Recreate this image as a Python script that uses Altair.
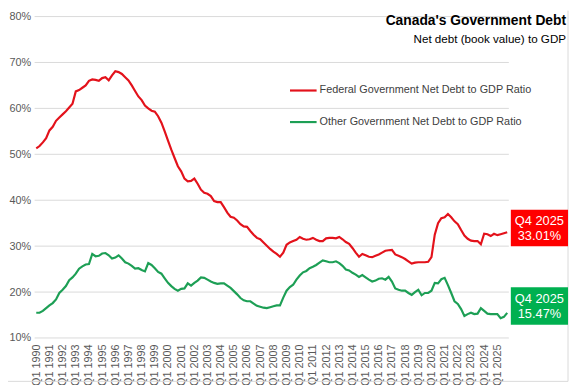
import altair as alt
import pandas as pd

# Quarterly data Q1 1990 .. Q4 2025 (index 0..143)
federal = [
    51.3, 51.8, 52.6, 53.5,   # 1990
    55.2, 56.0, 57.3, 58.0,   # 1991
    58.7, 59.4, 60.2, 61.0,   # 1992
    63.7, 64.0, 64.5, 65.0,   # 1993
    66.0, 66.3, 66.2, 66.0,   # 1994
    66.6, 66.8, 66.1, 67.2,   # 1995
    68.1, 67.9, 67.5, 66.8,   # 1996
    66.1, 65.0, 63.8, 62.6,   # 1997
    61.8, 60.6, 60.0, 59.5,   # 1998
    59.3, 58.3, 56.9, 55.0,   # 1999
    53.0, 51.0, 49.2, 47.4,   # 2000
    46.3, 44.7, 44.1, 44.2,   # 2001
    44.7, 43.6, 42.3, 41.6,   # 2002
    41.4, 40.9, 39.8, 39.6,   # 2003
    39.6, 38.5, 37.3, 36.4,   # 2004
    36.2, 35.6, 34.8, 34.3,   # 2005
    34.2, 33.3, 32.5, 31.8,   # 2006
    31.5, 30.8, 30.1, 29.4,   # 2007
    28.8, 28.3, 27.7, 28.6,   # 2008
    30.3, 30.8, 31.1, 31.4,   # 2009
    32.0, 31.6, 31.4, 31.5,   # 2010
    31.8, 31.4, 31.1, 31.1,   # 2011
    31.7, 31.8, 31.8, 31.7,   # 2012
    32.0, 31.5, 30.9, 30.5,   # 2013
    29.6, 28.6, 27.7, 28.3,   # 2014
    28.0, 27.7, 27.6, 27.9,   # 2015
    28.2, 28.6, 29.0, 29.1,   # 2016
    29.2, 28.2, 27.9, 27.6,   # 2017
    27.2, 26.7, 26.2, 26.4,   # 2018
    26.5, 26.5, 26.5, 26.6,   # 2019
    27.6, 32.5, 35.0, 36.1,   # 2020
    36.3, 37.0, 36.3, 35.4,   # 2021
    34.8, 33.5, 32.3, 31.6,   # 2022
    31.2, 31.1, 31.1, 30.4,   # 2023
    32.7, 32.6, 32.2, 32.7,   # 2024
    32.4, 32.6, 32.8, 33.01,  # 2025
]

other = [
    15.5, 15.5, 15.9, 16.5,   # 1990
    17.1, 17.6, 18.4, 19.8,   # 1991
    20.5, 21.3, 22.6, 23.2,   # 1992
    24.0, 25.1, 25.6, 26.0,   # 1993
    26.1, 28.3, 27.8, 27.9,   # 1994
    28.4, 28.5, 28.0, 27.3,   # 1995
    27.5, 28.0, 27.3, 26.5,   # 1996
    26.2, 25.7, 25.1, 25.2,   # 1997
    24.8, 24.5, 26.3, 25.9,   # 1998
    25.2, 24.4, 24.0, 23.0,   # 1999
    22.0, 21.3, 20.7, 20.3,   # 2000
    20.7, 20.8, 21.9, 21.4,   # 2001
    22.0, 22.5, 23.2, 23.1,   # 2002
    22.7, 22.3, 22.0, 21.8,   # 2003
    21.9, 21.9, 21.4, 20.9,   # 2004
    20.2, 19.5, 18.7, 18.2,   # 2005
    18.0, 18.0, 17.5, 17.0,   # 2006
    16.8, 16.6, 16.5, 16.7,   # 2007
    16.9, 17.1, 17.1, 18.8,   # 2008
    20.3, 21.1, 21.6, 22.7,   # 2009
    23.6, 24.3, 24.6, 25.2,   # 2010
    25.5, 25.9, 26.4, 26.9,   # 2011
    26.7, 26.5, 26.5, 26.7,   # 2012
    26.3, 25.7, 24.9, 24.7,   # 2013
    24.2, 23.8, 23.3, 23.7,   # 2014
    23.2, 22.7, 22.3, 22.5,   # 2015
    22.9, 23.0, 22.7, 23.3,   # 2016
    22.3, 20.8, 20.5, 20.3,   # 2017
    20.3, 19.8, 19.4, 20.0,   # 2018
    20.5, 19.3, 19.8, 19.8,   # 2019
    20.3, 22.0, 21.9, 22.8,   # 2020
    23.1, 21.5, 19.8, 18.0,   # 2021
    17.4, 16.3, 14.8, 15.2,   # 2022
    15.5, 15.2, 15.3, 16.5,   # 2023
    15.9, 15.3, 15.2, 15.2,   # 2024
    15.2, 14.3, 14.6, 15.47,  # 2025
]

series_names = ["Federal Government Net Debt to GDP Ratio",
                "Other Government Net Debt to GDP Ratio"]
line_colors = ["#e3121b", "#1d9f55"]
box_colors = ["#ff0000", "#00b050"]
last_labels = ["Q4 2025", "Q4 2025"]
last_values = [33.01, 15.47]
tick_quarters = list(range(0, 144, 4))
y_ticks = [10, 20, 30, 40, 50, 60, 70, 80]

rows = []
for i, v in enumerate(federal):
    rows.append({"q": i, "v": v, "s": series_names[0]})
for i, v in enumerate(other):
    rows.append({"q": i, "v": v, "s": series_names[1]})
df = pd.DataFrame(rows)

FONT = "Liberation Sans"
W, H = 481, 326

x_enc = alt.X("q:Q",
              scale=alt.Scale(domain=[-0.5, 143.5], nice=False, zero=False),
              axis=alt.Axis(values=tick_quarters,
                            labelExpr="'Q1 ' + (1990 + datum.value / 4)",
                            labelAngle=270, labelFontSize=11, labelColor="#595959",
                            labelFont=FONT, labelPadding=6, ticks=False,
                            domain=False, grid=False, title=None,
                            labelOverlap=False, labelBound=False, labelFlush=False))
y_axis = alt.Axis(values=y_ticks, labelExpr="datum.value + '%'",
                  labelFontSize=11, labelColor="#595959", labelFont=FONT,
                  labelPadding=4, ticks=False, domain=False, grid=False, title=None)
y_scale = alt.Scale(domain=[10, 80], nice=False, zero=False)


def Y():
    return alt.Y("v:Q", scale=y_scale, axis=y_axis)


grid_df = pd.DataFrame({"v": y_ticks})
grid = alt.Chart(grid_df).mark_rule(color="#d9d9d9", strokeWidth=1).encode(
    x=alt.value(0), x2=alt.value(W), y=Y())

# light chart frame (right and bottom edges)
frame_df = pd.DataFrame({"f": [0]})
frame_r = alt.Chart(frame_df).mark_rule(color="#d9d9d9", strokeWidth=1).encode(
    x=alt.value(541), y=alt.value(-6), y2=alt.value(370))
frame_b = alt.Chart(frame_df).mark_rule(color="#d9d9d9", strokeWidth=1).encode(
    x=alt.value(-27), x2=alt.value(541), y=alt.value(370))

lines = alt.Chart(df).mark_line(strokeWidth=2.2, interpolate="linear").encode(
    x=x_enc, y=Y(),
    color=alt.Color("s:N", scale=alt.Scale(domain=series_names, range=line_colors),
                    legend=None),
)

# Legend (manual, inside plot)
leg_y = [75, 107]
leg_lines = []
leg_texts = []
for k in range(2):
    sub = pd.DataFrame({"s": [series_names[k]]})
    leg_lines.append(alt.Chart(sub).mark_rule(strokeWidth=2.2, color=line_colors[k]).encode(
        x=alt.value(259), x2=alt.value(286), y=alt.value(leg_y[k])))
    leg_texts.append(alt.Chart(sub).mark_text(align="left", baseline="middle",
                                              fontSize=11, font=FONT, color="#404040").encode(
        x=alt.value(289), y=alt.value(leg_y[k]), text="s:N"))

# Title
title_df = pd.DataFrame({"t": ["Canada's Government Debt"]})
sub_df = pd.DataFrame({"t": ["Net debt (book value) to GDP"]})
title = alt.Chart(title_df).mark_text(align="right", baseline="middle", fontSize=14,
                                      fontWeight="bold", font=FONT, color="#000000").encode(
    x=alt.value(539), y=alt.value(5), text="t:N")
subtitle = alt.Chart(sub_df).mark_text(align="right", baseline="middle", fontSize=11.8,
                                       font=FONT, color="#000000").encode(
    x=alt.value(539), y=alt.value(23), text="t:N")

# End-value boxes
box_layers = []
offs = [(-23, 14, -11, 4), (-26, 12, -14, 1)]
for k in range(2):
    bdf = pd.DataFrame({"v": [last_values[k]], "lab": [last_labels[k]],
                        "pct": [f"{last_values[k]:.2f}%"]})
    top, bot, d1, d2 = offs[k]
    box_layers.append(alt.Chart(bdf).mark_rect(color=box_colors[k], yOffset=top,
                                               y2Offset=bot).encode(
        x=alt.value(483), x2=alt.value(541), y=Y(), y2="v:Q"))
    box_layers.append(alt.Chart(bdf).mark_text(color="white", fontSize=13, font=FONT,
                                               align="center", baseline="middle", dy=d1).encode(
        x=alt.value(512), y=Y(), text="lab:N"))
    box_layers.append(alt.Chart(bdf).mark_text(color="white", fontSize=13, font=FONT,
                                               align="center", baseline="middle", dy=d2).encode(
        x=alt.value(512), y=Y(), text="pct:N"))

chart = alt.layer(grid, frame_r, frame_b, lines, *box_layers, *leg_lines, *leg_texts,
                  title, subtitle).properties(
    width=W, height=H,
    autosize=alt.AutoSizeParams(type="none"),
    padding={"left": 27, "top": 6, "right": 61, "bottom": 45},
    background="white",
).configure_view(stroke=None)

chart.save("out.html", embed_options={"renderer": "svg", "actions": False})
